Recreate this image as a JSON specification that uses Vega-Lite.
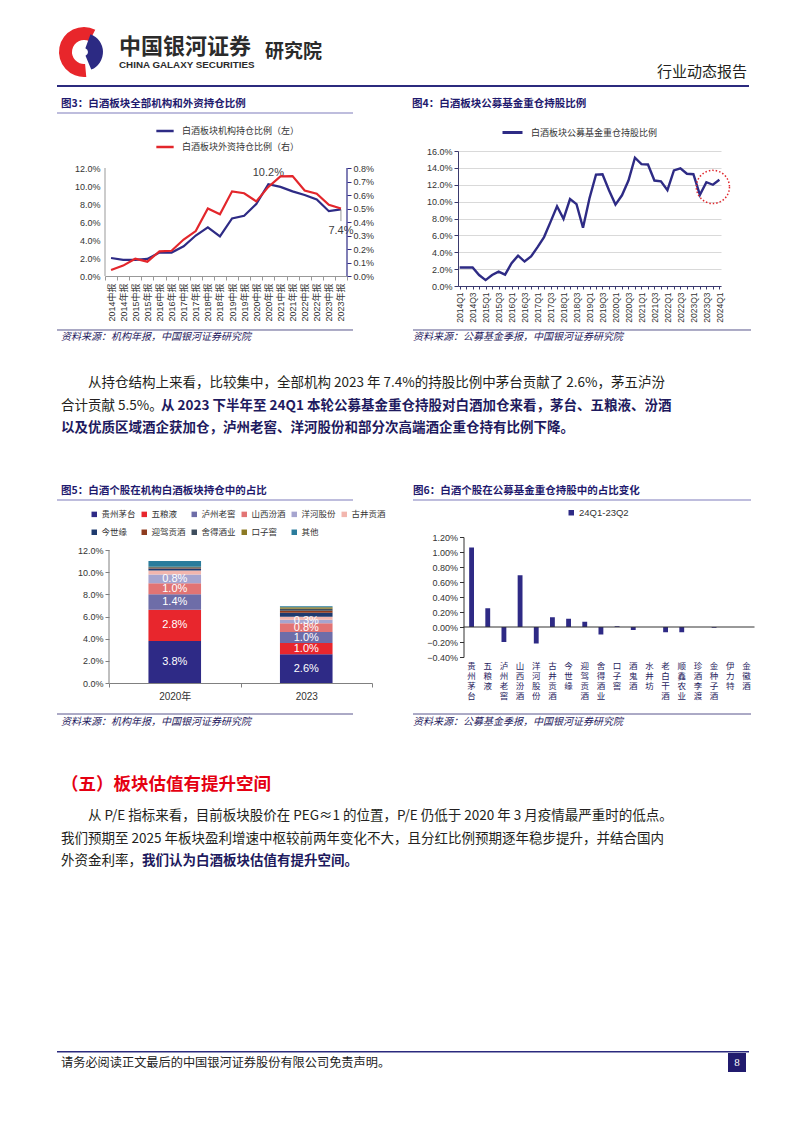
{
"$schema": "https://vega.github.io/schema/vega-lite/v6.json",
"background": "white",
"padding": {"left": 56, "top": 26, "right": 0, "bottom": 0},
"spacing": 0,
"resolve": {"scale": {"color": "independent"}, "legend": {"color": "independent"}},
"config": {
  "view": {"stroke": null},
  "font": "Noto Sans CJK SC",
  "text": {"font": "Noto Sans CJK SC"},
  "axis": {"labelFont": "Liberation Sans, Noto Sans CJK SC", "labelColor": "#333333", "labelFontSize": 9, "domainColor": "#808080", "tickColor": "#808080", "titleFont": "Noto Sans CJK SC", "labelOverlap": false},
  "legend": {"labelFont": "Noto Sans CJK SC", "labelColor": "#333333", "labelFontSize": 9, "padding": 0}
},
"vconcat": [
{
  "width": 692, "height": 58,
  "layer": [
    {"data": {"values": [{}]}, "mark": {"type": "rect", "color": "white"}},
    {"data": {"values": [{"k": "logo"}]}, "mark": {"type": "arc", "theta": 3.05, "theta2": 6.75, "innerRadius": 12, "outerRadius": 25, "color": "#E8262B"},
     "encoding": {"x": {"datum": 0.039, "type": "quantitative", "scale": {"domain": [0, 1], "nice": false, "zero": false}, "axis": null}, "y": {"datum": 0.569, "type": "quantitative", "scale": {"domain": [0, 1], "nice": false, "zero": false}, "axis": null}}},
    {"data": {"values": [{"k": "logo"}]}, "mark": {"type": "arc", "theta": 0.35, "theta2": 2.75, "innerRadius": 4, "outerRadius": 19, "color": "#2C2A83"},
     "encoding": {"x": {"datum": 0.039, "type": "quantitative"}, "y": {"datum": 0.569, "type": "quantitative"}}},
    {"data": {"values": [{"t": "中国银河证券"}]}, "mark": {"type": "text", "align": "left", "fontSize": 22, "fontWeight": "bold", "color": "#2B2B2B"},
     "encoding": {"x": {"datum": 0.0896, "type": "quantitative"}, "y": {"datum": 0.647, "type": "quantitative"}, "text": {"field": "t"}}},
    {"data": {"values": [{"t": "CHINA GALAXY SECURITIES"}]}, "mark": {"type": "text", "align": "left", "fontSize": 9.8, "fontWeight": "bold", "font": "Liberation Sans", "color": "#2B2B2B"},
     "encoding": {"x": {"datum": 0.0896, "type": "quantitative"}, "y": {"datum": 0.353, "type": "quantitative"}, "text": {"field": "t"}}},
    {"data": {"values": [{"t": "研究院"}]}, "mark": {"type": "text", "align": "left", "fontSize": 19, "fontWeight": "bold", "color": "#2B2B2B"},
     "encoding": {"x": {"datum": 0.3006, "type": "quantitative"}, "y": {"datum": 0.569, "type": "quantitative"}, "text": {"field": "t"}}},
    {"data": {"values": [{"t": "行业动态报告"}]}, "mark": {"type": "text", "align": "right", "fontSize": 15, "color": "#231F20"},
     "encoding": {"x": {"datum": 0.997, "type": "quantitative"}, "y": {"datum": 0.224, "type": "quantitative"}, "text": {"field": "t"}}}
  ]
},
{"width": 692, "height": 2, "data": {"values": [{}]}, "mark": {"type": "rect", "color": "#2B2A7E"}},
{
  "spacing": 58,
  "hconcat": [
    {"width": 296, "height": 34,
     "layer": [
       {"data": {"values": [{}]}, "mark": {"type": "rect", "color": "white"}},
       {"data": {"values": [{"t": "图3：白酒板块全部机构和外资持仓比例"}]},
        "mark": {"type": "text", "align": "left", "fontSize": 10.5, "fontWeight": "bold", "color": "#1F1A6E"},
        "encoding": {"x": {"datum": 0.0135, "type": "quantitative", "scale": {"domain": [0, 1], "nice": false, "zero": false}, "axis": null}, "y": {"datum": 0.5, "type": "quantitative", "scale": {"domain": [0, 1], "nice": false, "zero": false}, "axis": null}, "text": {"field": "t"}}},
       {"data": {"values": [{}]}, "mark": {"type": "rule", "color": "#A9A7D2", "strokeWidth": 1.5}, "encoding": {"y": {"datum": 0.235, "type": "quantitative"}}}
     ]},
    {"width": 338, "height": 34,
     "layer": [
       {"data": {"values": [{}]}, "mark": {"type": "rect", "color": "white"}},
       {"data": {"values": [{"t": "图4：白酒板块公募基金重仓持股比例"}]},
        "mark": {"type": "text", "align": "left", "fontSize": 10.5, "fontWeight": "bold", "color": "#1F1A6E"},
        "encoding": {"x": {"datum": 0, "type": "quantitative", "scale": {"domain": [0, 1], "nice": false, "zero": false}, "axis": null}, "y": {"datum": 0.5, "type": "quantitative", "scale": {"domain": [0, 1], "nice": false, "zero": false}, "axis": null}, "text": {"field": "t"}}}
     ]}
  ]
},
{
  "spacing": 0,
  "resolve": {"scale": {"color": "independent"}, "legend": {"color": "independent"}},
  "hconcat": [
    {"width": 16.5, "height": 1, "data": {"values": [{}]}, "mark": {"type": "rect", "color": "white"}},
    {
      "spacing": 52,
      "resolve": {"scale": {"color": "independent"}, "legend": {"color": "independent"}},
      "hconcat": [
        {
          "width": 242, "height": 125,
          "data": {"values": [
            {"p": "2014中报", "inst": 0.020, "fore": 0.00045},
            {"p": "2014年报", "inst": 0.018, "fore": 0.00077},
            {"p": "2015中报", "inst": 0.018, "fore": 0.00128},
            {"p": "2015年报", "inst": 0.019, "fore": 0.00106},
            {"p": "2016中报", "inst": 0.026, "fore": 0.00183},
            {"p": "2016年报", "inst": 0.026, "fore": 0.00187},
            {"p": "2017中报", "inst": 0.033, "fore": 0.0027},
            {"p": "2017年报", "inst": 0.045, "fore": 0.00333},
            {"p": "2018中报", "inst": 0.054, "fore": 0.0050},
            {"p": "2018年报", "inst": 0.044, "fore": 0.00457},
            {"p": "2019中报", "inst": 0.064, "fore": 0.00627},
            {"p": "2019年报", "inst": 0.067, "fore": 0.00613},
            {"p": "2020中报", "inst": 0.080, "fore": 0.00553},
            {"p": "2020年报", "inst": 0.102, "fore": 0.0066},
            {"p": "2021中报", "inst": 0.099, "fore": 0.00738},
            {"p": "2021年报", "inst": 0.094, "fore": 0.0074},
            {"p": "2022中报", "inst": 0.090, "fore": 0.00633},
            {"p": "2022年报", "inst": 0.085, "fore": 0.0061},
            {"p": "2023中报", "inst": 0.072, "fore": 0.00527},
            {"p": "2023年报", "inst": 0.074, "fore": 0.0050}
          ]},
          "layer": [
            {
              "layer": [
                {"mark": {"type": "line", "strokeWidth": 2.2},
                 "encoding": {
                   "x": {"field": "p", "type": "ordinal", "scale": {"domain": ["2014中报","2014年报","2015中报","2015年报","2016中报","2016年报","2017中报","2017年报","2018中报","2018年报","2019中报","2019年报","2020中报","2020年报","2021中报","2021年报","2022中报","2022年报","2023中报","2023年报"], "paddingInner": 0, "paddingOuter": 0},
                         "axis": {"title": null, "labelAngle": -90, "labelFontSize": 9, "labelOverlap": false, "tickBand": "extent", "tickSize": 4, "labelPadding": 3, "domainColor": "#999999", "tickColor": "#999999"}},
                   "y": {"field": "inst", "type": "quantitative", "scale": {"domain": [0, 0.13889], "nice": false},
                         "axis": {"title": null, "format": ".1%", "values": [0, 0.02, 0.04, 0.06, 0.08, 0.10, 0.12], "tickCount": 20, "labelOverlap": false, "ticks": false, "domain": false, "labelPadding": 5, "grid": false}},
                   "color": {"datum": "白酒板块机构持仓比例（左）", "scale": {"domain": ["白酒板块机构持仓比例（左）", "白酒板块外资持仓比例（右）"], "range": ["#2E2B85", "#E3262B"]},
                             "legend": {"orient": "none", "legendX": 50, "legendY": -30, "direction": "vertical", "title": null, "symbolType": "stroke", "symbolStrokeWidth": 2.5, "symbolSize": 300, "labelFontSize": 9, "rowPadding": 1, "labelOffset": 7}}
                 }},
                {"data": {"values": [{}]},
                 "mark": {"type": "rule", "color": "#999999", "strokeWidth": 1},
                 "encoding": {"x": {"datum": "2014中报", "type": "ordinal", "bandPosition": 0}, "y": {"datum": 0, "type": "quantitative"}, "y2": {"datum": 0.12}}},
                {"data": {"values": [{"p": "2020年报", "inst": 0.102, "lab": "10.2%"}]},
                 "mark": {"type": "text", "dy": -11, "fontSize": 11, "color": "#404040", "font": "Liberation Sans"},
                 "encoding": {"x": {"field": "p", "type": "ordinal"}, "y": {"field": "inst", "type": "quantitative"}, "text": {"field": "lab"}}},
                {"data": {"values": [{"p": "2023年报", "inst": 0.074, "end": 0.061}]},
                 "mark": {"type": "rule", "color": "#808080", "strokeWidth": 0.8},
                 "encoding": {"x": {"field": "p", "type": "ordinal"}, "y": {"field": "inst", "type": "quantitative"}, "y2": {"field": "end"}}},
                {"data": {"values": [{"p": "2023年报", "inst": 0.074, "lab": "7.4%"}]},
                 "mark": {"type": "text", "dy": 22, "fontSize": 11, "color": "#404040", "font": "Liberation Sans"},
                 "encoding": {"x": {"field": "p", "type": "ordinal"}, "y": {"field": "inst", "type": "quantitative"}, "text": {"field": "lab"}}}
              ]
            },
            {
              "layer": [
                {"mark": {"type": "line", "strokeWidth": 2.2},
                 "encoding": {
                   "x": {"field": "p", "type": "ordinal"},
                   "y": {"field": "fore", "type": "quantitative", "scale": {"domain": [0, 0.0092593], "nice": false},
                         "axis": {"orient": "right", "title": null, "format": ".1%", "values": [0, 0.001, 0.002, 0.003, 0.004, 0.005, 0.006, 0.007, 0.008], "tickCount": 20, "labelOverlap": false, "domain": false, "tickColor": "#2E2B85", "tickSize": 4, "labelPadding": 2, "grid": false}},
                   "color": {"datum": "白酒板块外资持仓比例（右）"}
                 }},
                {"data": {"values": [{}]},
                 "mark": {"type": "rule", "color": "#2E2B85", "strokeWidth": 1.2},
                 "encoding": {"x": {"datum": "2023年报", "type": "ordinal", "bandPosition": 1}, "y": {"datum": 0, "type": "quantitative"}, "y2": {"datum": 0.008}}}
              ]
            }
          ],
          "resolve": {"scale": {"y": "independent"}}
        },
        {
          "width": 263, "height": 135,
          "layer": [
            {"data": {"values": [
              {"q": "2014Q1", "v": 0.022}, {"q": "2014Q2", "v": 0.022}, {"q": "2014Q3", "v": 0.022}, {"q": "2014Q4", "v": 0.013},
              {"q": "2015Q1", "v": 0.007}, {"q": "2015Q2", "v": 0.013}, {"q": "2015Q3", "v": 0.017}, {"q": "2015Q4", "v": 0.0135},
              {"q": "2016Q1", "v": 0.027}, {"q": "2016Q2", "v": 0.036}, {"q": "2016Q3", "v": 0.029}, {"q": "2016Q4", "v": 0.035},
              {"q": "2017Q1", "v": 0.046}, {"q": "2017Q2", "v": 0.058}, {"q": "2017Q3", "v": 0.076}, {"q": "2017Q4", "v": 0.0945},
              {"q": "2018Q1", "v": 0.0795}, {"q": "2018Q2", "v": 0.103}, {"q": "2018Q3", "v": 0.097}, {"q": "2018Q4", "v": 0.069},
              {"q": "2019Q1", "v": 0.104}, {"q": "2019Q2", "v": 0.132}, {"q": "2019Q3", "v": 0.1325}, {"q": "2019Q4", "v": 0.1135},
              {"q": "2020Q1", "v": 0.0965}, {"q": "2020Q2", "v": 0.1075}, {"q": "2020Q3", "v": 0.125}, {"q": "2020Q4", "v": 0.152},
              {"q": "2021Q1", "v": 0.1445}, {"q": "2021Q2", "v": 0.144}, {"q": "2021Q3", "v": 0.125}, {"q": "2021Q4", "v": 0.124},
              {"q": "2022Q1", "v": 0.1135}, {"q": "2022Q2", "v": 0.137}, {"q": "2022Q3", "v": 0.1395}, {"q": "2022Q4", "v": 0.133},
              {"q": "2023Q1", "v": 0.1325}, {"q": "2023Q2", "v": 0.108}, {"q": "2023Q3", "v": 0.123}, {"q": "2023Q4", "v": 0.120},
              {"q": "2024Q1", "v": 0.126}
            ]},
             "mark": {"type": "line", "strokeWidth": 2.4},
             "encoding": {
               "x": {"field": "q", "type": "ordinal", "scale": {"type": "point", "padding": 0.25},
                     "axis": {"title": null, "labelAngle": -90, "labelFontSize": 8.5, "labelOverlap": false, "labelExpr": "(substring(datum.value,4)=='Q1'||substring(datum.value,4)=='Q3')?datum.label:''", "tickSize": 3, "labelPadding": 3, "domainColor": "#3A3A6E", "tickColor": "#3A3A6E"}},
               "y": {"field": "v", "type": "quantitative", "scale": {"domain": [0, 0.16], "nice": false},
                     "axis": {"title": null, "format": ".1%", "values": [0, 0.02, 0.04, 0.06, 0.08, 0.10, 0.12, 0.14, 0.16], "tickCount": 20, "labelOverlap": false, "grid": true, "gridColor": "#D9D9D9", "domainColor": "#3A3A6E", "tickColor": "#3A3A6E", "tickSize": 4, "labelPadding": 2}},
               "color": {"datum": "白酒板块公募基金重仓持股比例", "scale": {"range": ["#2E2B85"]},
                         "legend": {"orient": "none", "legendX": 43, "legendY": -30, "title": null, "symbolType": "stroke", "symbolStrokeWidth": 3, "symbolSize": 400, "labelFontSize": 9, "labelOffset": 7}}
             }},
            {"data": {"values": [{"q": "2023Q4", "v": 0.1174}]},
             "mark": {"type": "point", "shape": "circle", "size": 1100, "filled": false, "stroke": "#E0282E", "strokeWidth": 1.5, "strokeDash": [1.5, 2], "opacity": 1},
             "encoding": {"x": {"field": "q", "type": "ordinal"}, "y": {"field": "v", "type": "quantitative"}}}
          ]
        }
      ]
    }
  ]
},
{
  "spacing": 58,
  "hconcat": [
    {"width": 296, "height": 22,
     "layer": [
       {"data": {"values": [{}]}, "mark": {"type": "rect", "color": "white"}},
       {"data": {"values": [{}]}, "mark": {"type": "rule", "color": "#2D2A6E", "strokeWidth": 0.8}, "encoding": {"y": {"datum": 0.682, "type": "quantitative", "scale": {"domain": [0, 1], "nice": false, "zero": false}, "axis": null}}},
       {"data": {"values": [{"t": "资料来源：机构年报，中国银河证券研究院"}]},
        "mark": {"type": "text", "align": "left", "fontSize": 10, "fontStyle": "italic", "color": "#1F1A5E"},
        "encoding": {"x": {"datum": 0.0135, "type": "quantitative", "scale": {"domain": [0, 1], "nice": false, "zero": false}, "axis": null}, "y": {"datum": 0.364, "type": "quantitative"}, "text": {"field": "t"}}}
     ]},
    {"width": 338, "height": 22,
     "layer": [
       {"data": {"values": [{}]}, "mark": {"type": "rect", "color": "white"}},
       {"data": {"values": [{}]}, "mark": {"type": "rule", "color": "#2D2A6E", "strokeWidth": 0.8}, "encoding": {"y": {"datum": 0.682, "type": "quantitative", "scale": {"domain": [0, 1], "nice": false, "zero": false}, "axis": null}}},
       {"data": {"values": [{"t": "资料来源：公募基金季报，中国银河证券研究院"}]},
        "mark": {"type": "text", "align": "left", "fontSize": 10, "fontStyle": "italic", "color": "#1F1A5E"},
        "encoding": {"x": {"datum": 0, "type": "quantitative", "scale": {"domain": [0, 1], "nice": false, "zero": false}, "axis": null}, "y": {"datum": 0.364, "type": "quantitative"}, "text": {"field": "t"}}}
     ]}
  ]
},
{
  "width": 692, "height": 129,
  "layer": [
    {"data": {"values": [{}]}, "mark": {"type": "rect", "color": "white"}},
    {"data": {"values": [{"t": "从持仓结构上来看，比较集中，全部机构 2023 年 7.4%的持股比例中茅台贡献了 2.6%，茅五泸汾"}]},
     "mark": {"type": "text", "align": "left", "dx": 27, "fontSize": 13.5, "color": "#231F20"},
     "encoding": {"x": {"datum": 0.0058, "type": "quantitative", "scale": {"domain": [0, 1], "nice": false, "zero": false}, "axis": null},
                  "y": {"datum": 0.7054, "type": "quantitative", "scale": {"domain": [0, 1], "nice": false, "zero": false}, "axis": null},
                  "text": {"field": "t"}}},
    {"data": {"values": [{"t": "合计贡献 5.5%。"}]},
     "mark": {"type": "text", "align": "left", "fontSize": 13.5, "color": "#231F20"},
     "encoding": {"x": {"datum": 0.0058, "type": "quantitative"}, "y": {"datum": 0.531, "type": "quantitative"}, "text": {"field": "t"}}},
    {"data": {"values": [{"t": "从 2023 下半年至 24Q1 本轮公募基金重仓持股对白酒加仓来看，茅台、五粮液、汾酒"}]},
     "mark": {"type": "text", "align": "left", "dx": 100, "fontSize": 13.5, "fontWeight": "bold", "color": "#1E1A5E"},
     "encoding": {"x": {"datum": 0.0058, "type": "quantitative"}, "y": {"datum": 0.531, "type": "quantitative"}, "text": {"field": "t"}}},
    {"data": {"values": [{"t": "以及优质区域酒企获加仓，泸州老窖、洋河股份和部分次高端酒企重仓持有比例下降。"}]},
     "mark": {"type": "text", "align": "left", "fontSize": 13.5, "fontWeight": "bold", "color": "#1E1A5E"},
     "encoding": {"x": {"datum": 0.0058, "type": "quantitative"}, "y": {"datum": 0.3566, "type": "quantitative"}, "text": {"field": "t"}}}
  ]
},
{
  "spacing": 58,
  "hconcat": [
    {"width": 296, "height": 34,
     "layer": [
       {"data": {"values": [{}]}, "mark": {"type": "rect", "color": "white"}},
       {"data": {"values": [{"t": "图5：白酒个股在机构白酒板块持仓中的占比"}]},
        "mark": {"type": "text", "align": "left", "fontSize": 10.5, "fontWeight": "bold", "color": "#1F1A6E"},
        "encoding": {"x": {"datum": 0.0135, "type": "quantitative", "scale": {"domain": [0, 1], "nice": false, "zero": false}, "axis": null}, "y": {"datum": 0.5, "type": "quantitative", "scale": {"domain": [0, 1], "nice": false, "zero": false}, "axis": null}, "text": {"field": "t"}}},
       {"data": {"values": [{}]}, "mark": {"type": "rule", "color": "#A9A7D2", "strokeWidth": 1.5}, "encoding": {"y": {"datum": 0.235, "type": "quantitative"}}}
     ]},
    {"width": 338, "height": 34,
     "layer": [
       {"data": {"values": [{}]}, "mark": {"type": "rect", "color": "white"}},
       {"data": {"values": [{"t": "图6：白酒个股在公募基金重仓持股中的占比变化"}]},
        "mark": {"type": "text", "align": "left", "fontSize": 10.5, "fontWeight": "bold", "color": "#1F1A6E"},
        "encoding": {"x": {"datum": 0, "type": "quantitative", "scale": {"domain": [0, 1], "nice": false, "zero": false}, "axis": null}, "y": {"datum": 0.5, "type": "quantitative", "scale": {"domain": [0, 1], "nice": false, "zero": false}, "axis": null}, "text": {"field": "t"}}},
       {"data": {"values": [{}]}, "mark": {"type": "rule", "color": "#A9A7D2", "strokeWidth": 1.5}, "encoding": {"y": {"datum": 0.235, "type": "quantitative"}}}
     ]}
  ]
},
{
  "spacing": 0,
  "resolve": {"scale": {"color": "independent"}, "legend": {"color": "independent"}},
  "hconcat": [
    {"width": 19.5, "height": 1, "data": {"values": [{}]}, "mark": {"type": "rect", "color": "white"}},
    {
      "spacing": 40.5,
      "resolve": {"scale": {"color": "independent"}, "legend": {"color": "independent"}},
      "hconcat": [
        {
          "width": 263, "height": 146,
          "data": {"values": [
            {"c": "2020年", "s": "贵州茅台", "k": 1, "v": 0.038},
            {"c": "2020年", "s": "五粮液", "k": 2, "v": 0.028},
            {"c": "2020年", "s": "泸州老窖", "k": 3, "v": 0.014},
            {"c": "2020年", "s": "山西汾酒", "k": 4, "v": 0.010},
            {"c": "2020年", "s": "洋河股份", "k": 5, "v": 0.008},
            {"c": "2020年", "s": "古井贡酒", "k": 6, "v": 0.0035},
            {"c": "2020年", "s": "今世缘", "k": 7, "v": 0.0015},
            {"c": "2020年", "s": "迎驾贡酒", "k": 8, "v": 0.0005},
            {"c": "2020年", "s": "舍得酒业", "k": 9, "v": 0.001},
            {"c": "2020年", "s": "口子窖", "k": 10, "v": 0.0005},
            {"c": "2020年", "s": "其他", "k": 11, "v": 0.005},
            {"c": "2023", "s": "贵州茅台", "k": 1, "v": 0.026},
            {"c": "2023", "s": "五粮液", "k": 2, "v": 0.010},
            {"c": "2023", "s": "泸州老窖", "k": 3, "v": 0.010},
            {"c": "2023", "s": "山西汾酒", "k": 4, "v": 0.008},
            {"c": "2023", "s": "洋河股份", "k": 5, "v": 0.003},
            {"c": "2023", "s": "古井贡酒", "k": 6, "v": 0.0027},
            {"c": "2023", "s": "今世缘", "k": 7, "v": 0.0036},
            {"c": "2023", "s": "迎驾贡酒", "k": 8, "v": 0.002},
            {"c": "2023", "s": "舍得酒业", "k": 9, "v": 0.0018},
            {"c": "2023", "s": "口子窖", "k": 10, "v": 0.0012},
            {"c": "2023", "s": "其他", "k": 11, "v": 0.001}
          ]},
          "layer": [
            {"mark": {"type": "bar", "width": {"band": 0.4}},
             "encoding": {
               "x": {"field": "c", "type": "nominal", "sort": null, "scale": {"paddingInner": 0, "paddingOuter": 0},
                     "axis": {"title": null, "labelAngle": 0, "labelFontSize": 10, "labelOverlap": false, "tickBand": "extent", "tickSize": 4, "labelPadding": 4, "domainColor": "#808080", "tickColor": "#808080"}},
               "y": {"field": "v", "type": "quantitative", "stack": "zero", "scale": {"domain": [0, 0.13173], "nice": false},
                     "axis": {"title": null, "format": ".1%", "values": [0, 0.02, 0.04, 0.06, 0.08, 0.10, 0.12], "tickCount": 20, "labelOverlap": false, "domain": false, "tickSize": 4, "labelPadding": 2, "grid": false}},
               "color": {"field": "s", "type": "nominal",
                         "scale": {"domain": ["贵州茅台", "五粮液", "泸州老窖", "山西汾酒", "洋河股份", "古井贡酒", "今世缘", "迎驾贡酒", "舍得酒业", "口子窖", "其他"],
                                   "range": ["#2E2A86", "#E8262D", "#6E6DA8", "#E27474", "#A6A5CF", "#F2B6AE", "#1E3A6E", "#8E3B1E", "#3E4E5E", "#8C7A24", "#2A7C9C"]},
                         "legend": {"orient": "none", "legendX": -19, "legendY": -27, "direction": "horizontal", "title": null, "columns": 6, "symbolType": "square", "symbolSize": 30, "labelFontSize": 8.5, "columnPadding": 4, "rowPadding": 9, "labelOffset": 3, "symbolStrokeWidth": 0}},
               "order": {"field": "k", "type": "quantitative"}
             }},
            {"transform": [{"filter": {"field": "k", "lte": 5}}],
             "mark": {"type": "text", "color": "white", "fontSize": 11, "font": "Liberation Sans"},
             "encoding": {
               "x": {"field": "c", "type": "nominal", "sort": null},
               "y": {"field": "v", "type": "quantitative", "stack": "zero", "bandPosition": 0.5},
               "text": {"field": "v", "type": "quantitative", "format": ".1%"},
               "order": {"field": "k", "type": "quantitative"}
             }},
            {"data": {"values": [{}]},
             "mark": {"type": "rule", "color": "#808080", "strokeWidth": 1},
             "encoding": {"x": {"datum": "2020年", "type": "nominal", "bandPosition": 0}, "y": {"datum": 0, "type": "quantitative"}, "y2": {"datum": 0.12}}}
          ]
        },
        {
          "width": 291, "height": 120,
          "layer": [
            {"data": {"values": [
              {"n": "贵州茅台", "v": 0.0106}, {"n": "五粮液", "v": 0.0025}, {"n": "泸州老窖", "v": -0.0020},
              {"n": "山西汾酒", "v": 0.0069}, {"n": "洋河股份", "v": -0.0022}, {"n": "古井贡酒", "v": 0.0013},
              {"n": "今世缘", "v": 0.0011}, {"n": "迎驾贡酒", "v": 0.0007}, {"n": "舍得酒业", "v": -0.0010},
              {"n": "口子窖", "v": 0.0001}, {"n": "酒鬼酒", "v": -0.0004}, {"n": "水井坊", "v": 0.0},
              {"n": "老白干酒", "v": -0.0007}, {"n": "顺鑫农业", "v": -0.0007}, {"n": "珍酒李渡", "v": 0.0},
              {"n": "金种子酒", "v": -0.0001}, {"n": "伊力特", "v": 0.0}, {"n": "金徽酒", "v": 0.0}
            ]},
             "mark": {"type": "bar", "width": {"band": 0.3}},
             "encoding": {
               "x": {"field": "n", "type": "nominal", "sort": null, "scale": {"paddingInner": 0, "paddingOuter": 0},
                     "axis": {"title": null, "labelAngle": 0, "labelOverlap": false, "labelExpr": "split(datum.label,'')", "domain": false, "ticks": false, "labelFontSize": 8.5, "labelLineHeight": 10, "labelPadding": 4, "labelFont": "Noto Sans CJK SC", "labelColor": "#1F1C5E", "labelBaseline": "top"}},
               "y": {"field": "v", "type": "quantitative", "scale": {"domain": [-0.004, 0.012], "nice": false},
                     "axis": {"title": null, "format": ".2%", "values": [-0.004, -0.002, 0, 0.002, 0.004, 0.006, 0.008, 0.010, 0.012], "tickCount": 20, "labelOverlap": false, "domainColor": "#333333", "tickColor": "#333333", "tickSize": 4, "labelPadding": 2, "grid": false}},
               "color": {"datum": "24Q1-23Q2", "scale": {"range": ["#2E2A85"]},
                         "legend": {"orient": "none", "legendX": 103, "legendY": -29, "title": null, "symbolType": "square", "symbolSize": 30, "labelFontSize": 9.5, "labelFont": "Liberation Sans", "labelOffset": 3}}
             }},
            {"data": {"values": [{"z": 0}]},
             "mark": {"type": "rule", "color": "#333333", "strokeWidth": 1},
             "encoding": {"y": {"field": "z", "type": "quantitative"}}}
          ]
        }
      ]
    }
  ]
},
{
  "spacing": 58,
  "hconcat": [
    {"width": 296, "height": 26,
     "layer": [
       {"data": {"values": [{}]}, "mark": {"type": "rect", "color": "white"}},
       {"data": {"values": [{}]}, "mark": {"type": "rule", "color": "#2D2A6E", "strokeWidth": 0.8}, "encoding": {"y": {"datum": 0.5, "type": "quantitative", "scale": {"domain": [0, 1], "nice": false, "zero": false}, "axis": null}}},
       {"data": {"values": [{"t": "资料来源：机构年报，中国银河证券研究院"}]},
        "mark": {"type": "text", "align": "left", "fontSize": 10, "fontStyle": "italic", "color": "#1F1A5E"},
        "encoding": {"x": {"datum": 0.0135, "type": "quantitative", "scale": {"domain": [0, 1], "nice": false, "zero": false}, "axis": null}, "y": {"datum": 0.2, "type": "quantitative"}, "text": {"field": "t"}}}
     ]},
    {"width": 338, "height": 26,
     "layer": [
       {"data": {"values": [{}]}, "mark": {"type": "rect", "color": "white"}},
       {"data": {"values": [{}]}, "mark": {"type": "rule", "color": "#2D2A6E", "strokeWidth": 0.8}, "encoding": {"y": {"datum": 0.5, "type": "quantitative", "scale": {"domain": [0, 1], "nice": false, "zero": false}, "axis": null}}},
       {"data": {"values": [{"t": "资料来源：公募基金季报，中国银河证券研究院"}]},
        "mark": {"type": "text", "align": "left", "fontSize": 10, "fontStyle": "italic", "color": "#1F1A5E"},
        "encoding": {"x": {"datum": 0, "type": "quantitative", "scale": {"domain": [0, 1], "nice": false, "zero": false}, "axis": null}, "y": {"datum": 0.2, "type": "quantitative"}, "text": {"field": "t"}}}
     ]}
  ]
},
{
  "width": 692, "height": 323.3,
  "layer": [
    {"data": {"values": [{}]}, "mark": {"type": "rect", "color": "white"}},
    {"data": {"values": [{"t": "（五）板块估值有提升空间"}]},
     "mark": {"type": "text", "align": "left", "fontSize": 17.5, "fontWeight": "bold", "color": "#E50012"},
     "encoding": {"x": {"datum": 0.0058, "type": "quantitative", "scale": {"domain": [0, 1], "nice": false, "zero": false}, "axis": null},
                  "y": {"datum": 0.8206, "type": "quantitative", "scale": {"domain": [0, 1], "nice": false, "zero": false}, "axis": null},
                  "text": {"field": "t"}}},
    {"data": {"values": [{"t": "从 P/E 指标来看，目前板块股价在 PEG≈1 的位置，P/E 仍低于 2020 年 3 月疫情最严重时的低点。"}]},
     "mark": {"type": "text", "align": "left", "dx": 27, "fontSize": 13.5, "color": "#231F20"},
     "encoding": {"x": {"datum": 0.0058, "type": "quantitative"}, "y": {"datum": 0.7247, "type": "quantitative"}, "text": {"field": "t"}}},
    {"data": {"values": [{"t": "我们预期至 2025 年板块盈利增速中枢较前两年变化不大，且分红比例预期逐年稳步提升，并结合国内"}]},
     "mark": {"type": "text", "align": "left", "fontSize": 13.5, "color": "#231F20"},
     "encoding": {"x": {"datum": 0.0058, "type": "quantitative"}, "y": {"datum": 0.6545, "type": "quantitative"}, "text": {"field": "t"}}},
    {"data": {"values": [{"t": "外资金利率，"}]},
     "mark": {"type": "text", "align": "left", "fontSize": 13.5, "color": "#231F20"},
     "encoding": {"x": {"datum": 0.0058, "type": "quantitative"}, "y": {"datum": 0.5846, "type": "quantitative"}, "text": {"field": "t"}}},
    {"data": {"values": [{"t": "我们认为白酒板块估值有提升空间。"}]},
     "mark": {"type": "text", "align": "left", "dx": 81, "fontSize": 13.5, "fontWeight": "bold", "color": "#1E1A5E"},
     "encoding": {"x": {"datum": 0.0058, "type": "quantitative"}, "y": {"datum": 0.5846, "type": "quantitative"}, "text": {"field": "t"}}}
  ]
},
{"width": 692, "height": 1.5, "data": {"values": [{}]}, "mark": {"type": "rect", "color": "#2B2A7E"}},
{
  "spacing": 0,
  "hconcat": [
    {"width": 671, "height": 19,
     "layer": [
       {"data": {"values": [{}]}, "mark": {"type": "rect", "color": "white"}},
       {"data": {"values": [{"t": "请务必阅读正文最后的中国银河证券股份有限公司免责声明。"}]},
        "mark": {"type": "text", "align": "left", "fontSize": 12.2, "color": "#222222"},
        "encoding": {"x": {"datum": 0.006, "type": "quantitative", "scale": {"domain": [0, 1], "nice": false, "zero": false}, "axis": null}, "y": {"datum": 0.5, "type": "quantitative", "scale": {"domain": [0, 1], "nice": false, "zero": false}, "axis": null}, "text": {"field": "t"}}}
     ]},
    {"width": 18, "height": 19,
     "layer": [
       {"data": {"values": [{}]}, "mark": {"type": "rect", "color": "#211B6E"}},
       {"data": {"values": [{"t": "8"}]}, "mark": {"type": "text", "color": "white", "fontSize": 11, "font": "Liberation Serif"}, "encoding": {"text": {"field": "t"}}}
     ]}
  ]
}
]
}
